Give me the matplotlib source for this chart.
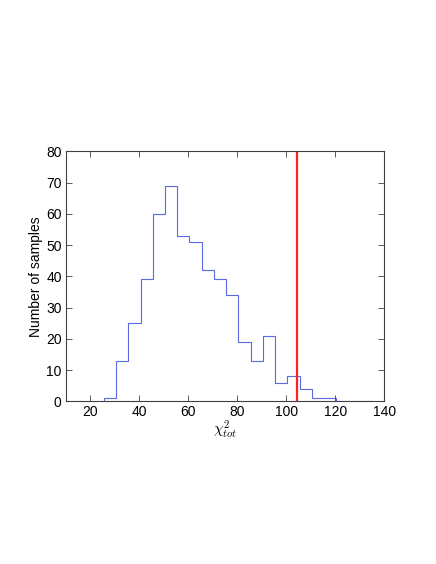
import matplotlib
matplotlib.use("Agg")
import matplotlib.pyplot as plt
import numpy as np

# Histogram data (bin edges width 5)
bin_edges = [25.5, 30.5, 35.5, 40.5, 45.5, 50.5, 55.5, 60.5, 65.5, 70.5, 75.5,
             80.5, 85.5, 90.5, 95.5, 100.5, 105.5, 110.5, 115.5, 120.5, 125.5,
             130.5, 135.5]
counts = [1, 13, 25, 39, 60, 69, 53, 51, 42, 39, 34,
          19, 13, 21, 6, 8, 4, 1, 1, 0, 0, 0]
threshold = 104.4

x_ticks = [20, 40, 60, 80, 100, 120, 140]
y_ticks = [0, 10, 20, 30, 40, 50, 60, 70, 80]

plt.rcParams['font.family'] = ['Liberation Sans', 'DejaVu Sans']
plt.rcParams['mathtext.fontset'] = 'cm'

fig = plt.figure(figsize=(4.36, 5.64), dpi=100)
ax = fig.add_axes([0.151, 0.2885, 0.730, 0.443])

ax.stairs(counts, bin_edges, color='#5a6ae0', linewidth=0.8)
ax.axvline(threshold, color='#ff2020', linewidth=1.6)

ax.set_xlim(10, 140)
ax.set_ylim(0, 80)
ax.set_xticks(x_ticks)
ax.set_yticks(y_ticks)
ax.tick_params(direction='in', top=True, right=True, length=4, width=0.6,
               labelsize=10, color='#404040', pad=3)
for s in ax.spines.values():
    s.set_color('#404040')
    s.set_linewidth(0.8)

ax.set_xlabel(r'$\chi^2_{tot}$', fontsize=11, labelpad=0)
ax.set_ylabel('Number of samples', fontsize=10, labelpad=2)

fig.savefig('out.png', dpi=100)
